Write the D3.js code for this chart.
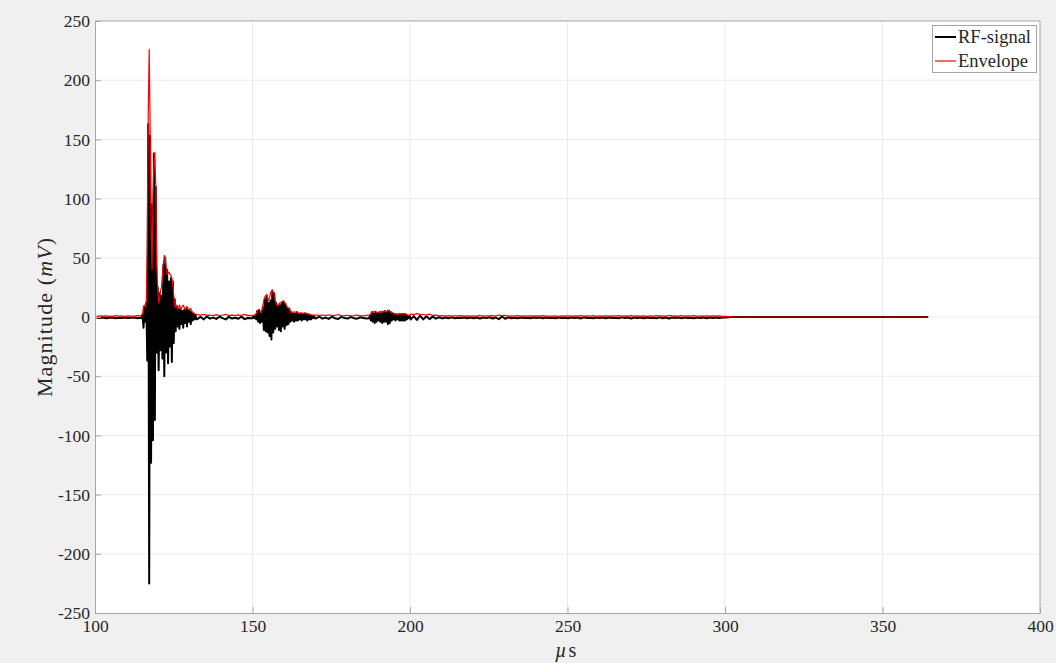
<!DOCTYPE html>
<html>
<head>
<meta charset="utf-8">
<script src="https://cdn.jsdelivr.net/npm/d3@7"></script>
<style>
  html, body { margin: 0; padding: 0; background: #f0f0f0; }
  svg { display: block; }
  text { font-family: "Liberation Serif", "DejaVu Serif", serif; fill: #262626; }
</style>
</head>
<body>
<svg id="chart" width="1056" height="663"></svg>
<script>
// ---------------- DATA ----------------
const xTicks = [100, 150, 200, 250, 300, 350, 400];
const yTicks = [-250, -200, -150, -100, -50, 0, 50, 100, 150, 200, 250];
const seriesNames = ["RF-signal", "Envelope"];

// Quiet segment before first echo (µs start, step)
const preStart = 100.5, preStep = 1.0;
const preRF  = [-0.6,-0.9,-0.4,-1.0,-0.7,-0.5,-1.1,-0.6,-0.8,-0.4,-0.9,-0.7,-0.5,-1.0,-0.6];
const preEnv = [0.6,0.9,0.7,1.0,0.8,0.6,1.1,0.7,0.9,0.6,1.0,0.8,0.7,1.2,0.9];

// First (main) echo
const b1Start = 114.8, b1Step = 0.3;
const b1RF = [-1,2,-9,9,-4,12,-37,163,-225,153,-123,95,-104,138,-87,110,-30,25,-45,20,
  -28,18,-35,44,-50,50,-30,40,-39,30,-25,33,-38,30,-22,15,-12,9,-8,6,
  -10,7,-6,5,-9,6,-5,7,-8,6,-4,5,-6,4,-3,3,-2,2,-2];
const b1Env = [1,3,9,10,8,14,60,170,226,160,80,40,100,130,139,110,45,25,12,15,
  22,25,35,45,52,50,42,36,37,38,36,35,33,28,18,10,8,10,9,7,
  10,8,7,9,10,8,6,8,9,7,6,7,7,5,4,3,3,2,2];

// Quiet segment between first and second echo
const g1Start = 132.5, g1Step = 1.0;
const g1RF  = [-1.8,0.2,-2.0,0.4,-1.4,-0.5,-1.6,0.2,-1.0,-2.0,0.1,-1.3,-0.6,-1.5,0.3,-1.8,-0.8,-1.0];
const g1Env = [2.0,1.6,2.2,1.4,1.5,1.2,2.0,1.3,1.5,2.3,1.2,1.6,1.1,1.8,1.5,2.2,1.2,1.3];

// Second echo
const b2Start = 150.0, b2Step = 0.3;
const b2RF = [-1,1,-1,1,-2,5,-4,6,-5,3,-4,8,-11,15,-12,18,-13,12,-16,14,
  -19,22,-13,20,-10,12,-8,9,-11,10,-12,12,-8,13,-10,11,-7,8,-6,7,
  -4,4,-3,3,-4,3,-3,4,-3,2,-2,3,-3,2,-2,3,-2,2,-3,2,
  -2,1,-2,1,-1,1,-1];
const b2Env = [1,1.5,1.5,2,3,5,6,6.5,5,4,6,10,14,17,18,19,16,14,16,20,
  22,23,20,19,14,11,10,10,11,12,12,13,13.5,13,12,11,9,8,7,7.5,
  5,4,4,4,4.5,4,4,4.5,4,3,3,3.5,3.5,3,3,3.5,3,3,3,2.5,
  2.5,2,2,1.5,1.5,1.5,1.5];

// Quiet segment between second and third echo
const g2Start = 170.2, g2Step = 1.0;
const g2RF  = [-1.2,0.3,-1.4,-0.5,-1.6,0.2,-1.0,-1.7,0.1,-0.8,-1.3,0.0,-1.0,-1.4,-0.2,-0.9,-1.2];
const g2Env = [1.6,1.3,1.7,1.1,1.9,1.2,1.3,2.1,1.0,1.1,1.5,1.0,1.2,1.7,0.9,1.0,1.3];

// Third echo
const b3Start = 187.0, b3Step = 0.3;
const b3RF = [-1,1,-3,4,-4,3,-5,4,-4,3,-3,4,-4,3,-5,4,-4,5,-4,4,
  -6,5,-5,4,-3,3,-2,2,-3,2,-2,2,-3,2,-3,2,-3,2,-3,2,
  -2,1,-1,1];
const b3Env = [1.5,2,3,4,4.5,4,5,4.5,4,4,3.5,4.5,4.5,4,5,4.5,4.5,5,4.5,4.5,
  6,5.5,5,4.5,3.5,3.5,3,2.5,3,2.5,2.5,2.5,3,2.5,3,2.5,3,2.5,3,2.5,
  2,1.5,1.5,1.2];

// Late low-level noise
const lateStart = 200.2, lateStep = 1.0;
const lateRF = [-2.2,0.8,-2.5,1.2,-2.0,0.6,-1.8,0.3,-1.4,-0.2,
  -1.2,-0.5,-1.0,-0.3,-1.1,-0.6,-0.9,-0.4,-1.0,-0.5,
  -1.1,-0.4,-1.2,-0.5,-0.9,-0.3,-1.3,-0.4,-1.8,0.4,
  -1.5,-0.3,-1.0,-0.6,-1.1,-0.4,-0.9,-0.6,-1.0,-0.4,
  -0.9,-0.5,-1.1,-0.4,-0.8,-0.6,-1.0,-0.4,-0.9,-0.6,
  -1.0,-0.4,-0.9,-0.5,-1.2,-0.3,-0.9,-0.6,-1.1,-0.4,
  -0.9,-0.5,-1.0,-0.4,-0.8,-0.6,-1.1,-0.3,-0.9,-0.5,
  -1.2,-0.4,-0.8,-0.5,-1.0,-0.4,-0.9,-0.6,-1.1,-0.3,
  -1.0,-0.5,-1.2,-0.4,-0.9,-0.5,-1.1,-0.4,-0.8,-0.6,
  -1.0,-0.4,-0.9,-0.5,-1.0,-0.4,-0.8,-0.5,-0.9,-0.4,
  -0.5,-0.2];
const lateEnv = [2.5,2.0,2.8,2.2,2.1,1.6,2.4,1.3,1.6,1.0,
  1.1,0.8,1.2,0.8,1.0,0.9,1.1,0.7,0.9,0.8,
  1.0,0.8,1.3,0.7,1.0,0.9,1.2,0.8,1.7,1.2,
  1.4,0.7,1.0,0.8,1.1,0.7,0.9,0.8,1.0,0.7,
  0.9,0.8,1.1,0.7,0.8,0.7,1.0,0.6,0.9,0.8,
  1.0,0.7,0.9,0.8,1.2,0.8,0.9,0.7,1.1,0.6,
  0.9,0.7,1.0,0.7,0.9,0.8,1.1,0.8,0.9,0.7,
  1.2,0.7,0.9,0.8,1.0,0.6,0.9,0.8,1.1,0.8,
  1.0,0.7,1.3,0.8,0.9,0.7,1.2,0.7,0.9,0.8,
  1.1,0.6,0.9,0.7,1.0,0.7,0.9,0.7,1.0,0.6,
  0.6,0.3];

// Zero-padded tail
const tailTime = [302.0, 364.5];
const tailRF   = [0, 0];
const tailEnv  = [0, 0];

// ---------------- BUILD SERIES ----------------
function seg(start, step, vals) { return vals.map((v, i) => ({ t: start + i * step, v })); }
const rfData = [].concat(
  seg(preStart, preStep, preRF), seg(b1Start, b1Step, b1RF), seg(g1Start, g1Step, g1RF),
  seg(b2Start, b2Step, b2RF), seg(g2Start, g2Step, g2RF), seg(b3Start, b3Step, b3RF),
  seg(lateStart, lateStep, lateRF), tailTime.map((t, i) => ({ t, v: tailRF[i] }))
);
const envData = [].concat(
  seg(preStart, preStep, preEnv), seg(b1Start, b1Step, b1Env), seg(g1Start, g1Step, g1Env),
  seg(b2Start, b2Step, b2Env), seg(g2Start, g2Step, g2Env), seg(b3Start, b3Step, b3Env),
  seg(lateStart, lateStep, lateEnv), tailTime.map((t, i) => ({ t, v: tailEnv[i] }))
);

// ---------------- DRAW ----------------
const svg = d3.select("#chart");
const W = 1056, H = 663;
const m = { left: 95, right: 1040, top: 21, bottom: 613 };
const axisColor = "#a6a6a6";

svg.append("rect").attr("width", W).attr("height", H).attr("fill", "#f0f0f0");

const x = d3.scaleLinear().domain([100, 400]).range([m.left, m.right]);
const y = d3.scaleLinear().domain([-250, 250]).range([m.bottom, m.top]);

svg.append("rect")
  .attr("x", m.left).attr("y", m.top)
  .attr("width", m.right - m.left).attr("height", m.bottom - m.top)
  .attr("fill", "#ffffff");

// grid
const grid = svg.append("g");
grid.selectAll("line.gx").data(xTicks.slice(1, -1)).join("line")
  .attr("x1", d => x(d)).attr("x2", d => x(d))
  .attr("y1", m.top).attr("y2", m.bottom)
  .attr("stroke", "#ebebeb").attr("stroke-width", 1);
grid.selectAll("line.gy").data(yTicks.slice(1, -1)).join("line")
  .attr("y1", d => y(d)).attr("y2", d => y(d))
  .attr("x1", m.left).attr("x2", m.right)
  .attr("stroke", "#ebebeb").attr("stroke-width", 1);

// lines
const line = d3.line().x(d => x(d.t)).y(d => y(d.v));
svg.append("clipPath").attr("id", "clip").append("rect")
  .attr("x", m.left).attr("y", m.top).attr("width", m.right - m.left).attr("height", m.bottom - m.top);
svg.append("path").datum(rfData).attr("d", line)
  .attr("fill", "none").attr("stroke", "#000000").attr("stroke-width", 2)
  .attr("stroke-linejoin", "round").attr("clip-path", "url(#clip)");
svg.append("path").datum(envData).attr("d", line)
  .attr("fill", "none").attr("stroke", "#ff0000").attr("stroke-width", 1.2)
  .attr("stroke-linejoin", "round").attr("clip-path", "url(#clip)");

// axes (MATLAB style: ticks inside, box)
const xAxis = d3.axisBottom(x).tickValues(xTicks).tickSize(-6).tickPadding(7).tickFormat(d3.format("d"));
const yAxis = d3.axisLeft(y).tickValues(yTicks).tickSize(-6).tickPadding(5).tickFormat(d3.format("d"));
const gx = svg.append("g").attr("transform", `translate(0,${m.bottom})`).call(xAxis);
const gy = svg.append("g").attr("transform", `translate(${m.left},0)`).call(yAxis);
[gx, gy].forEach(g => {
  g.select(".domain").attr("stroke", axisColor);
  g.selectAll(".tick line").attr("stroke", axisColor);
  g.selectAll(".tick text").attr("fill", "#262626")
    .style("font-family", '"Liberation Serif", serif').style("font-size", "17.5px");
});
gy.selectAll(".tick text").text(d => d < 0 ? "-" + Math.abs(d) : d);
// box top / right
svg.append("line").attr("x1", m.left).attr("x2", m.right).attr("y1", m.top).attr("y2", m.top)
  .attr("stroke", axisColor);
svg.append("line").attr("x1", m.right).attr("x2", m.right).attr("y1", m.top).attr("y2", m.bottom)
  .attr("stroke", axisColor);

// axis labels
const ylab = svg.append("text")
  .attr("transform", `translate(52,${(m.top + m.bottom) / 2}) rotate(-90)`)
  .attr("text-anchor", "middle").style("font-size", "22px").style("letter-spacing", "1.1px");
ylab.append("tspan").text("Magnitude (");
ylab.append("tspan").attr("font-style", "italic").text("mV");
ylab.append("tspan").text(")");

const xMid = (m.left + m.right) / 2;
svg.append("text").attr("x", xMid - 1).attr("y", 657).attr("text-anchor", "end")
  .attr("font-style", "italic").style("font-size", "20px").text("µ");
svg.append("text").attr("x", xMid + 1).attr("y", 657).attr("text-anchor", "start")
  .style("font-size", "20px").text("s");

// legend
const lg = svg.append("g");
lg.append("rect").attr("x", 932.5).attr("y", 25.5).attr("width", 104).attr("height", 47)
  .attr("fill", "#ffffff").attr("stroke", axisColor);
const legColors = ["#000000", "#ff0000"];
const legWidths = [2, 1.2];
seriesNames.forEach((name, i) => {
  const ly = 37 + i * 24;
  lg.append("line").attr("x1", 935).attr("x2", 956).attr("y1", ly).attr("y2", ly)
    .attr("stroke", legColors[i]).attr("stroke-width", legWidths[i]);
  lg.append("text").attr("x", 958).attr("y", ly + 5.5).style("font-size", "18.5px").text(name);
});
</script>
</body>
</html>
